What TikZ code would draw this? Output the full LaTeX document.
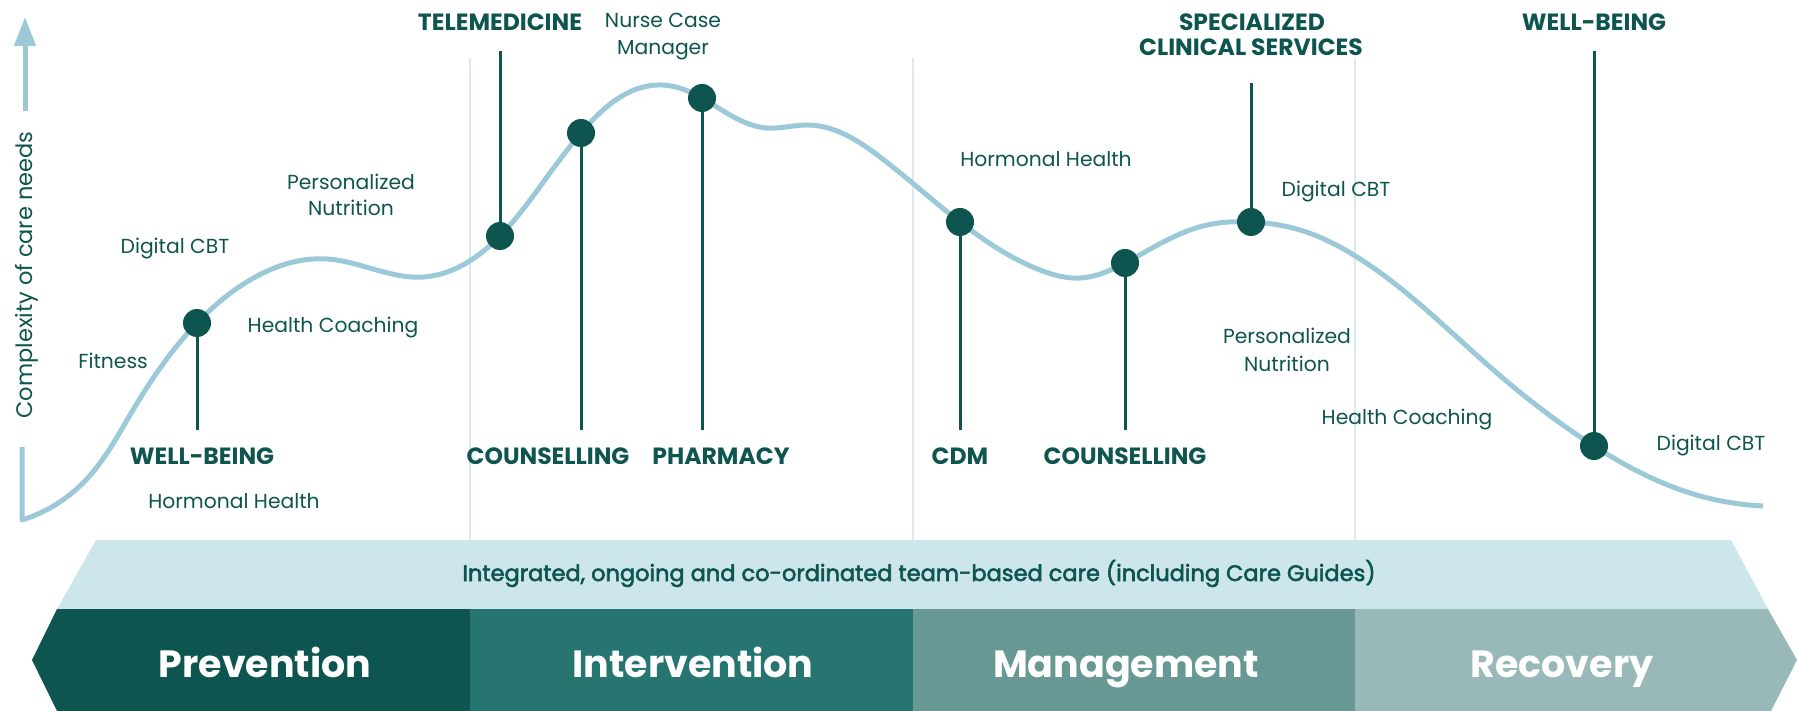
\documentclass[tikz,border=0pt]{standalone}
\usepackage{fontspec}
\setmainfont{Poppins}
\newfontfamily\medfont{Poppins}[FakeBold=2.5]
\usetikzlibrary{arrows.meta,hobby}
\definecolor{dk}{RGB}{14,85,79}
\definecolor{ctwo}{RGB}{39,117,112}
\definecolor{cthree}{RGB}{103,152,148}
\definecolor{cfour}{RGB}{152,185,184}
\definecolor{bandc}{RGB}{205,230,236}
\definecolor{crv}{RGB}{155,201,216}
\definecolor{divc}{RGB}{221,233,238}
\begin{document}
\begin{tikzpicture}[x=1pt,y=-1pt,
 lbl/.style={text=dk,inner sep=0pt,anchor=base,font=\fontsize{20.3}{26}\selectfont},
 blbl/.style={text=dk,inner sep=0pt,anchor=base,font=\fontsize{23.5}{28}\selectfont\bfseries},
 phase/.style={text=white,inner sep=0pt,anchor=base,font=\fontsize{38}{46}\selectfont\bfseries},
 bandtxt/.style={text=dk,inner sep=0pt,anchor=base,font=\medfont\fontsize{22.5}{26}\selectfont},
 dot/.style={circle,fill=dk,minimum size=28pt,inner sep=0pt},
 stem/.style={draw=dk,line width=3pt},
 divl/.style={draw=divc,line width=1.3pt},
 crvs/.style={draw=crv,line width=5pt,line join=round}]
\useasboundingbox (0,0) rectangle (1799,711);

% dividers
\coordinate (v1t) at (470,58); \coordinate (v1b) at (470,540);
\coordinate (v2t) at (913,58); \coordinate (v2b) at (913,540);
\coordinate (v3t) at (1355,58); \coordinate (v3b) at (1355,540);
\draw[divl] (v1t) -- (v1b);
\draw[divl] (v2t) -- (v2b);
\draw[divl] (v3t) -- (v3b);

% bands
\fill[bandc] (96,540) -- (1731,540) -- (1768,609) -- (57,609) -- cycle;
\fill[dk] (57,609) -- (470,609) -- (470,711) -- (57,711) -- (32,660) -- cycle;
\fill[ctwo] (470,609) rectangle (913,711);
\fill[cthree] (913,609) rectangle (1355,711);
\fill[cfour] (1355,609) -- (1768,609) -- (1797,660) -- (1771,711) -- (1355,711) -- cycle;
\node[bandtxt] (bt) at (919,581) {Integrated, ongoing and co-ordinated team-based care (including Care Guides)};
\node[phase] (p1) at (265,677) {Prevention};
\node[phase] (p2) at (693,677) {Intervention};
\node[phase] (p3) at (1126,677) {Management};
\node[phase] (p4) at (1562,677) {Recovery};

% axis
\coordinate (ax1) at (25,111); \coordinate (ax2) at (25,17);
\draw[crvs,-{Triangle[width=21pt,length=29pt]}] (ax1) -- (ax2);
\node[lbl,rotate=90,font=\fontsize{22.5}{26}\selectfont] (ylab) at (32,275) {Complexity of care needs};

% curve
\draw[crvs] (22,447) -- plot[hobby] coordinates {(22,520) (83,483) (133,410) (197,323) (250,280) (327,259) (423,277) (500,236) (547,177) (581,133) (662,85) (702,98) (767,128) (807,125) (880,157) (960,222) (1040,270) (1080,278) (1125,263) (1207,225) (1251,222) (1300,230) (1357,257) (1423,307) (1490,367) (1594,446) (1690,493) (1763,506)};

% stems and dots
\coordinate (c1) at (197,323);
\coordinate (c2) at (500,236);
\coordinate (c3) at (581,133);
\coordinate (c4) at (702,98);
\coordinate (c5) at (960,222);
\coordinate (c6) at (1125,263);
\coordinate (c7) at (1251,222);
\coordinate (c8) at (1594,446);
\coordinate (s1) at (197,430);
\coordinate (s2) at (500,51);
\coordinate (s3) at (581,430);
\coordinate (s4) at (702,430);
\coordinate (s5) at (960,430);
\coordinate (s6) at (1125,430);
\coordinate (s7) at (1251,83);
\coordinate (s8) at (1594,51);
\draw[stem] (c1) -- (s1);
\draw[stem] (c2) -- (s2);
\draw[stem] (c3) -- (s3);
\draw[stem] (c4) -- (s4);
\draw[stem] (c5) -- (s5);
\draw[stem] (c6) -- (s6);
\draw[stem] (c7) -- (s7);
\draw[stem] (c8) -- (s8);
\node[dot] (d1) at (c1) {};
\node[dot] (d2) at (c2) {};
\node[dot] (d3) at (c3) {};
\node[dot] (d4) at (c4) {};
\node[dot] (d5) at (c5) {};
\node[dot] (d6) at (c6) {};
\node[dot] (d7) at (c7) {};
\node[dot] (d8) at (c8) {};

% labels
\node[lbl] (t1) at (113,368) {Fitness};
\node[lbl] (t2) at (175,254) {Digital CBT};
\node[lbl] (t3a) at (351,190) {Personalized};
\node[lbl] (t3b) at (351,216) {Nutrition};
\node[lbl] (t4) at (333,333) {Health Coaching};
\node[blbl] (t5) at (202,464) {WELL-BEING};
\node[lbl] (t6) at (234,508) {Hormonal Health};
\node[blbl] (t7) at (500,31) {TELEMEDICINE};
\node[blbl] (t8) at (548,464) {COUNSELLING};
\node[lbl] (t9a) at (663,28) {Nurse Case};
\node[lbl] (t9b) at (663,55) {Manager};
\node[blbl] (t10) at (721,464) {PHARMACY};
\node[lbl] (t11) at (1046,167) {Hormonal Health};
\node[blbl] (t12) at (960,464) {CDM};
\node[blbl] (t13) at (1125,464) {COUNSELLING};
\node[blbl] (t14a) at (1252,31) {SPECIALIZED};
\node[blbl] (t14b) at (1251,56) {CLINICAL SERVICES};
\node[lbl] (t15) at (1336,197) {Digital CBT};
\node[lbl] (t16a) at (1287,344) {Personalized};
\node[lbl] (t16b) at (1287,371) {Nutrition};
\node[lbl] (t17) at (1407,424) {Health Coaching};
\node[blbl] (t18) at (1594,31) {WELL-BEING};
\node[lbl] (t19) at (1711,450) {Digital CBT};
\end{tikzpicture}
\end{document}
